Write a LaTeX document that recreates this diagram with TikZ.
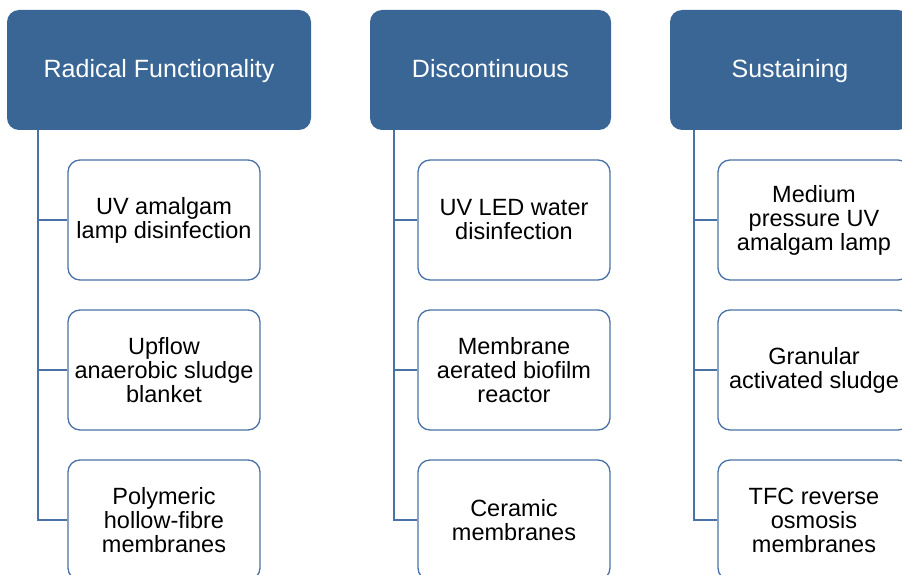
\documentclass[tikz,border=0pt]{standalone}
\usepackage{fontspec}
\setmainfont{Liberation Sans}
\definecolor{headblue}{RGB}{58,102,150}
\definecolor{lineblue}{RGB}{74,114,166}
\begin{document}
\begin{tikzpicture}[x=1pt,y=-1pt,
  header/.style={draw=none,fill=headblue,rounded corners=12pt,text=white,
    minimum width=#1,minimum height=120pt,inner sep=0pt,
    text height=20pt,text depth=4pt,font=\fontsize{25}{28}\selectfont},
  item/.style={draw=lineblue,line width=1.3pt,fill=white,rounded corners=12pt,
    minimum width=192pt,minimum height=120pt,inner sep=0pt,align=center,
    font=\fontsize{23.5}{24}\selectfont},
  link/.style={draw=lineblue,line width=1.3pt}]
\useasboundingbox (0,0) rectangle (902,575);
\clip (0,0) rectangle (902,575);

% column headings
\node[header=304pt] (h1) at (159,70) {Radical Functionality};
\node[header=241pt] (h2) at (490.5,70) {Discontinuous};
\node[header=240pt] (h3) at (790,70) {Sustaining};

% first column
\node[item] (a1) at (164,220) {UV amalgam\\lamp disinfection};
\node[item] (a2) at (164,370) {Upflow\\anaerobic sludge\\blanket};
\node[item] (a3) at (164,520) {Polymeric\\hollow-fibre\\membranes};

% second column
\node[item] (b1) at (514,220) {UV LED water\\disinfection};
\node[item] (b2) at (514,370) {Membrane\\aerated biofilm\\reactor};
\node[item] (b3) at (514,520) {Ceramic\\membranes};

% third column
\node[item] (c1) at (814,220) {Medium\\pressure UV\\amalgam lamp};
\node[item] (c2) at (814,370) {Granular\\activated sludge};
\node[item] (c3) at (814,520) {TFC reverse\\osmosis\\membranes};

% tree connectors
\foreach \h/\c/\x in {h1/a/38, h2/b/394, h3/c/694} {
  \draw[link] (\x,130) |- (\c3.west);
  \draw[link] (\x,220) -- (\c1.west);
  \draw[link] (\x,370) -- (\c2.west);
}
\end{tikzpicture}
\end{document}
